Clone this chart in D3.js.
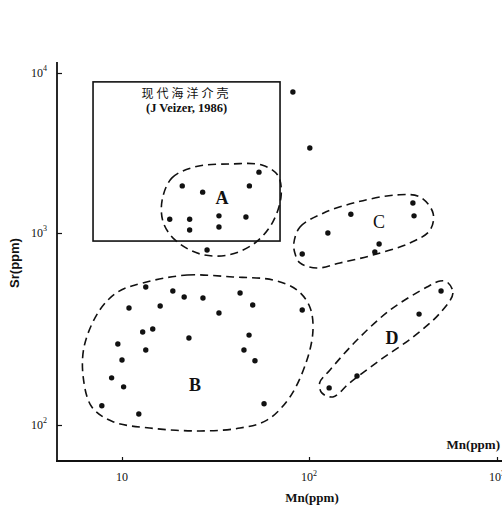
<!DOCTYPE html>
<html>
<head>
<meta charset="utf-8">
<script src="https://cdn.jsdelivr.net/npm/d3@7"></script>
<style>
body { margin: 0; background: #fff; }
svg { display: block; }
text { font-family: "Liberation Serif", "DejaVu Serif", serif; fill: #111; }
</style>
</head>
<body>
<script>
// tick values and their exponent labels
const xTicks = [10, 100, 1000];
const xTickSup = ["", "2", "3"];
const yTicks = [100, 1000, 10000];
const yTickSup = ["2", "3", "4"];

// samples: [Mn, Sr] in ppm
const groupA = [[54, 2400], [21, 1970], [48, 1970], [27, 1800], [18, 1220], [23, 1220],
    [33, 1280], [46, 1260], [23, 1045], [33, 1090], [28.5, 815]];
const outliers = [[82, 7600], [101, 3400]];
const groupB = [[13.4, 523], [18.7, 499], [21.5, 464], [10.9, 407], [16, 417], [12.9, 305],
    [14.6, 316], [22.8, 284], [9.5, 264], [13.4, 246], [10, 218], [8.8, 176], [10.2, 158],
    [7.8, 126], [12.3, 114], [27.1, 459], [42.8, 487], [50, 422], [33, 383], [92, 397],
    [47.8, 294], [44.9, 246], [51.4, 216], [57.5, 129]];
const groupC = [[357, 1540], [362, 1280], [167, 1310], [126, 1000], [236, 877], [224, 796], [92, 778]];
const groupD = [[504, 499], [385, 378], [180, 180], [128, 156]];

// dashed field outlines: [Mn, Sr]
const outlineA = [[16.4, 1610], [18.5, 2210], [24.6, 2590], [37.8, 2700], [56, 2660], [68, 2300],
    [71, 1730], [64, 1170], [51.4, 887], [36.9, 768], [26.1, 778], [19.2, 920], [16.6, 1170]];
const outlineB = [[12.9, 549], [22.3, 604], [39.2, 590], [64.2, 569], [86.3, 505], [101, 412],
    [105, 313], [97.5, 218], [79.1, 140], [59.6, 106], [42.8, 96.4], [26.1, 93.1], [14.1, 96.4],
    [8.95, 104], [6.9, 124], [6.2, 178], [6.3, 261], [7.6, 397], [9.5, 493]];
const outlineC = [[83, 887], [89.5, 1090], [119, 1330], [180, 1560], [294, 1730], [389, 1680],
    [457, 1330], [440, 1040], [344, 887], [219, 768], [146, 698], [110, 657], [89.5, 698], [84, 787]];
const outlineD = [[542, 556], [583, 487], [498, 383], [357, 287], [239, 218], [165, 166],
    [134, 140], [117, 147], [114, 166], [129, 193], [180, 277], [270, 397], [424, 523], [498, 562]];

const groupNames = ["A", "B", "C", "D"];
const groupLabelPos = [[34.3, 1655], [24.6, 162], [236, 1171], [276, 284]];

// modern marine field box (Veizer, 1986)
const boxMn = [7, 70];
const boxSr = [908, 8800];
const boxText = ["现代海洋介壳", "(J Veizer, 1986)"];

const width = 502;
const height = 511;
const axisLeft = 57;
const axisBottom = 461;

const svg = d3.select("body")
    .append("svg")
    .attr("width", width)
    .attr("height", height);

// the scanned figure is not evenly spaced per decade, so use piecewise log scales
const x = d3.scaleLog()
    .domain(xTicks)
    .range([122, 309, 497]);

const y = d3.scaleLog()
    .domain(yTicks)
    .range([425, 233, 73]);

// axes
svg.append("line")
    .attr("x1", axisLeft).attr("x2", axisLeft)
    .attr("y1", 62).attr("y2", axisBottom + 1)
    .attr("stroke", "#111").attr("stroke-width", 1.8);
svg.append("line")
    .attr("x1", axisLeft - 1).attr("x2", width)
    .attr("y1", axisBottom).attr("y2", axisBottom)
    .attr("stroke", "#111").attr("stroke-width", 1.8);

const xAxis = svg.append("g")
    .attr("transform", "translate(0," + axisBottom + ")")
    .call(d3.axisBottom(x).tickValues(xTicks).tickSize(-4).tickFormat(""));
xAxis.select(".domain").remove();
xAxis.selectAll(".tick line").attr("stroke", "#111").attr("stroke-width", 1.2);

const yAxis = svg.append("g")
    .attr("transform", "translate(" + axisLeft + ",0)")
    .call(d3.axisLeft(y).tickValues(yTicks).tickSize(-5).tickFormat(""));
yAxis.select(".domain").remove();
yAxis.selectAll(".tick line").attr("stroke", "#111").attr("stroke-width", 1.2);

// tick labels with superscripts
const xLab = svg.selectAll(".xlab")
    .data(xTicks)
    .enter()
    .append("text")
    .attr("class", "xlab")
    .attr("x", (d) => x(d))
    .attr("y", axisBottom + 20)
    .attr("text-anchor", "middle")
    .attr("fill", "#111")
    .style("font-size", "12px");
xLab.append("tspan").text("10");
xLab.append("tspan")
    .attr("dy", -5)
    .style("font-size", "8px")
    .text((d, i) => xTickSup[i]);

const yLab = svg.selectAll(".ylab")
    .data(yTicks)
    .enter()
    .append("text")
    .attr("class", "ylab")
    .attr("x", 47)
    .attr("y", (d) => y(d) + 4)
    .attr("text-anchor", "end")
    .attr("fill", "#111")
    .style("font-size", "12px");
yLab.append("tspan").text("10");
yLab.append("tspan")
    .attr("dy", -6)
    .style("font-size", "8px")
    .text((d, i) => yTickSup[i]);

// axis titles
svg.append("text")
    .attr("x", 312)
    .attr("y", 502)
    .attr("text-anchor", "middle")
    .style("font-size", "13px")
    .style("font-weight", "bold")
    .text("Mn(ppm)");
svg.append("text")
    .attr("x", 500)
    .attr("y", 449)
    .attr("text-anchor", "end")
    .style("font-size", "13px")
    .style("font-weight", "bold")
    .text("Mn(ppm)");
svg.append("text")
    .attr("transform", "translate(19,263) rotate(-90)")
    .attr("text-anchor", "middle")
    .style("font-family", "'Liberation Sans', Arial, sans-serif")
    .style("font-size", "13px")
    .style("font-weight", "bold")
    .text("Sr(ppm)");

// modern marine box
svg.append("rect")
    .attr("x", x(boxMn[0]))
    .attr("y", y(boxSr[1]))
    .attr("width", x(boxMn[1]) - x(boxMn[0]))
    .attr("height", y(boxSr[0]) - y(boxSr[1]))
    .attr("fill", "none")
    .attr("stroke", "#111")
    .attr("stroke-width", 1.6);

const boxCx = Math.sqrt(boxMn[0] * boxMn[1]);
svg.append("text")
    .attr("x", x(boxCx))
    .attr("y", y(boxSr[1]) + 16)
    .attr("text-anchor", "middle")
    .style("font-family", "'Noto Sans CJK SC', sans-serif")
    .style("font-size", "12px")
    .style("letter-spacing", "3px")
    .text(boxText[0]);
svg.append("text")
    .attr("x", x(boxCx))
    .attr("y", y(boxSr[1]) + 30)
    .attr("text-anchor", "middle")
    .style("font-size", "12.5px")
    .style("font-weight", "bold")
    .text(boxText[1]);

// dashed outlines
const outline = d3.line()
    .x((d) => x(d[0]))
    .y((d) => y(d[1]))
    .curve(d3.curveCatmullRomClosed.alpha(0.5));

svg.selectAll(".field")
    .data([outlineA, outlineB, outlineC, outlineD])
    .enter()
    .append("path")
    .attr("class", "field")
    .attr("d", outline)
    .attr("fill", "none")
    .attr("stroke", "#111")
    .attr("stroke-width", 1.6)
    .attr("stroke-dasharray", "8,5");

// points
const allPoints = [].concat(groupA, outliers, groupB, groupC, groupD);
svg.selectAll(".pt")
    .data(allPoints)
    .enter()
    .append("circle")
    .attr("class", "pt")
    .attr("cx", (d) => x(d[0]))
    .attr("cy", (d) => y(d[1]))
    .attr("r", 2.7)
    .attr("fill", "#111");

// group letters
svg.selectAll(".glab")
    .data(groupNames)
    .enter()
    .append("text")
    .attr("class", "glab")
    .attr("x", (d, i) => x(groupLabelPos[i][0]))
    .attr("y", (d, i) => y(groupLabelPos[i][1]) + 6)
    .attr("text-anchor", "middle")
    .style("font-size", "18px")
    .style("font-weight", (d) => d === "C" ? "normal" : "bold")
    .text((d) => d);
</script>
</body>
</html>
